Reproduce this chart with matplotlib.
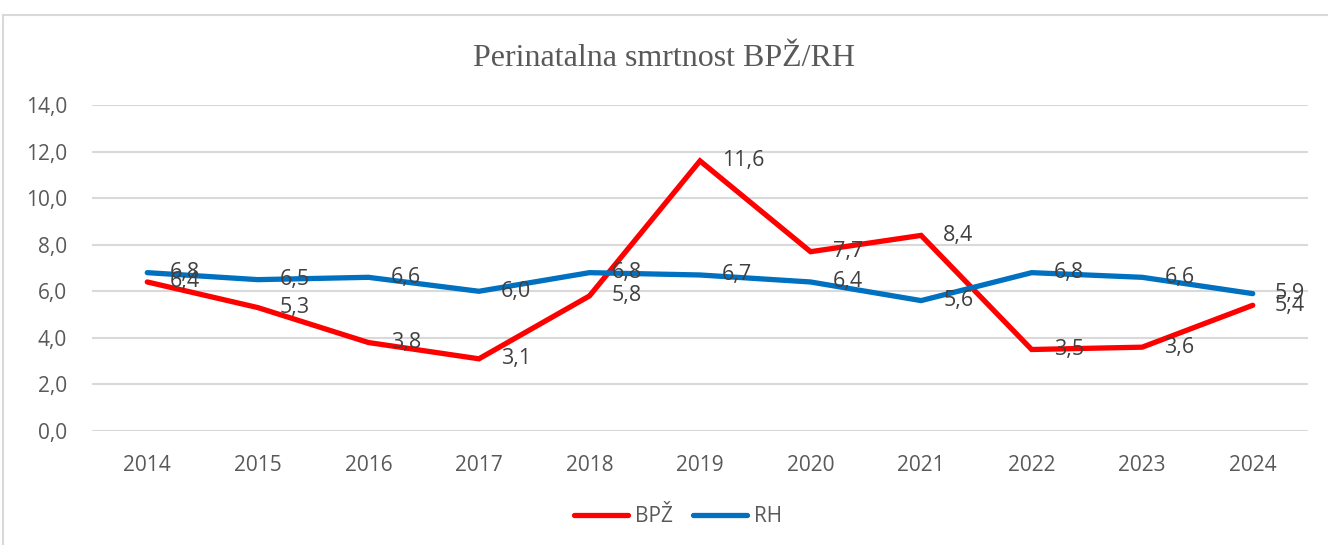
import matplotlib
matplotlib.use("Agg")
import matplotlib.pyplot as plt
from matplotlib.lines import Line2D

years = ["2014", "2015", "2016", "2017", "2018", "2019", "2020", "2021", "2022", "2023", "2024"]
bpz = [6.4, 5.3, 3.8, 3.1, 5.8, 11.6, 7.7, 8.4, 3.5, 3.6, 5.4]
rh = [6.8, 6.5, 6.6, 6.0, 6.8, 6.7, 6.4, 5.6, 6.8, 6.6, 5.9]
yticks = [0, 2, 4, 6, 8, 10, 12, 14]

W, H = 1328, 545
fig = plt.figure(figsize=(W / 100, H / 100), dpi=100)
ax = fig.add_axes([92 / W, 1 - 431 / H, (1308 - 92) / W, (431 - 105) / H])

font = ["Open Sans", "DejaVu Sans"]
x = list(range(len(years)))
ax.plot(x, bpz, color="#FF0000", lw=3.8, solid_joinstyle="miter", solid_capstyle="round", zorder=3, label="BPŽ")
ax.plot(x, rh, color="#0070C0", lw=3.8, solid_joinstyle="miter", solid_capstyle="round", zorder=3, label="RH")

for series in (bpz, rh):
    for xi, v in zip(x, series):
        ax.annotate(f"{v:.1f}".replace(".", ","), (xi, v), xytext=(16, 0), textcoords="offset points",
                    ha="left", va="center", fontsize=15.5, color="#404040", family=font, zorder=4)

ax.set_xlim(-0.5, len(years) - 0.5)
ax.set_ylim(0, 14)
ax.set_yticks(yticks)
ax.set_yticklabels([f"{t:.1f}".replace(".", ",") for t in yticks], family=font, fontsize=15, color="#595959")
ax.set_xticks(x)
ax.set_xticklabels(years, family=font, fontsize=15, color="#595959")
ax.tick_params(length=0)
ax.tick_params(axis="x", pad=17)
ax.tick_params(axis="y", pad=18)
ax.grid(axis="y", color="#D9D9D9", lw=1.5)
ax.set_axisbelow(True)
for s in ax.spines.values():
    s.set_visible(False)

fig.text(0.5, 1 - 58 / H, "Perinatalna smrtnost BPŽ/RH", ha="center", va="center",
         family=["Liberation Serif", "DejaVu Serif"], fontsize=23, color="#595959")

leg = fig.legend(handles=[Line2D([], [], color="#FF0000", lw=3.8, solid_capstyle="round"),
                          Line2D([], [], color="#0070C0", lw=3.8, solid_capstyle="round")],
                 labels=["BPŽ", "RH"], loc="center", bbox_to_anchor=(678 / W, 1 - 517 / H),
                 ncol=2, frameon=False, handlelength=2.6, handletextpad=0.3, columnspacing=1.0,
                 prop={"family": font, "size": 15})
for t in leg.get_texts():
    t.set_color("#595959")

fig.add_artist(Line2D([3 / W, 3 / W], [0, 1 - 15 / H], transform=fig.transFigure, color="#D9D9D9", lw=1.5))
fig.add_artist(Line2D([3 / W, 1], [1 - 15 / H, 1 - 15 / H], transform=fig.transFigure, color="#D9D9D9", lw=1.5))

fig.savefig("out.png", dpi=100)
